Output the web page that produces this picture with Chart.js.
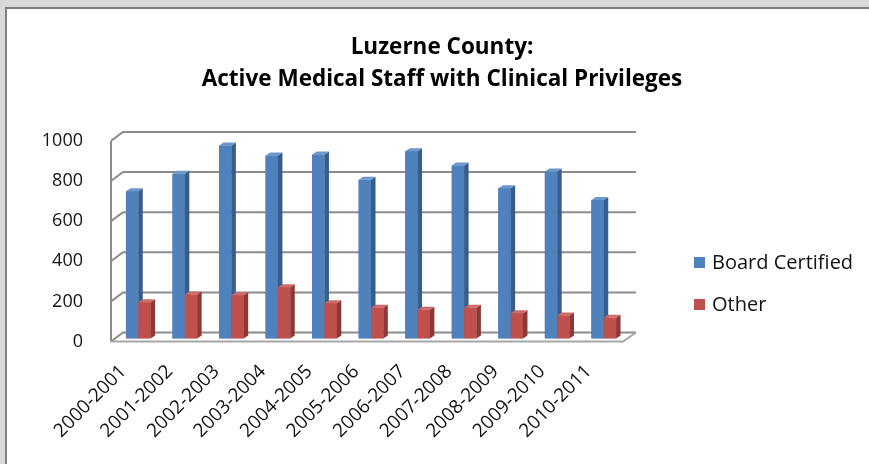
<!DOCTYPE html>
<html>
<head>
<meta charset="utf-8">
<script src="https://cdn.jsdelivr.net/npm/chart.js@4/dist/chart.umd.min.js"></script>
<style>
    body { margin: 0; background: #d9d9d9; overflow: hidden; }
    #frame {
        position: absolute; left: 5px; top: 7px; width: 900px; height: 480px;
        background: #fff; border-left: 2px solid #808080; border-top: 2px solid #808080;
    }
    #wrap { position: absolute; left: 0; top: 0; width: 869px; height: 464px; }
    #legend {
        position: absolute; left: 694px; top: 248px;
        font-family: "Open Sans", sans-serif; font-size: 20px; color: #111;
    }
    #legend div { height: 42px; line-height: 28px; white-space: nowrap; }
    #legend span { display: inline-block; width: 11px; height: 11px; margin-right: 7px; vertical-align: 1px; }
</style>
</head>
<body>
<div id="frame"></div>
<div id="wrap"><canvas id="outputChart" width="869" height="464"></canvas></div>
<div id="legend"></div>
<script>
// 차트 데이터
const years = [
    "2000-2001", "2001-2002", "2002-2003", "2003-2004", "2004-2005", "2005-2006",
    "2006-2007", "2007-2008", "2008-2009", "2009-2010", "2010-2011",
];
const boardCertified = [734, 821, 962, 912, 917, 791, 934, 862, 749, 832, 691];
const other = [181, 219, 216, 256, 176, 153, 143, 153, 126, 115, 103];
const yTicks = [0, 200, 400, 600, 800, 1000];

const seriesNames = ["Board Certified", "Other"];
const fronts = ["#4f81bd", "#c0504d"];
const sides = ["#385d8a", "#8c3836"];
const tops = ["#6d96c9", "#cd6b68"];

// 3D 효과 (벽, 바닥, 막대 옆면/윗면)
const bars3d = {
    id: "bars3d",
    beforeDatasetsDraw(chart) {
        const { ctx, chartArea: a, scales } = chart;
        const y = scales.y;
        ctx.save();
        ctx.strokeStyle = "#8c8c8c";
        ctx.lineWidth = 2;
        // 벽 모서리
        ctx.beginPath();
        ctx.moveTo(a.left - 4, y.getPixelForValue(1000) + 3);
        ctx.lineTo(a.left - 4, y.getPixelForValue(0) + 3);
        ctx.stroke();
        yTicks.forEach((v) => {
            const py = y.getPixelForValue(v);
            ctx.beginPath();
            ctx.moveTo(a.left - 4, py + 3);
            ctx.lineTo(a.left + 8, py - 6);
            ctx.lineTo(a.right + 9, py - 6);
            ctx.stroke();
        });
        // 바닥 앞쪽
        const p0 = y.getPixelForValue(0);
        ctx.strokeStyle = "#a6a6a6";
        ctx.beginPath();
        ctx.moveTo(a.left - 4, p0 + 3);
        ctx.lineTo(a.right - 4, p0 + 3);
        ctx.lineTo(a.right + 9, p0 - 6);
        ctx.stroke();
        ctx.restore();
    },
    afterDatasetsDraw(chart) {
        const { ctx } = chart;
        const dx = 4.5, dy = 3;
        ctx.save();
        const n = chart.data.labels.length;
        for (let i = 0; i < n; i++) {
            chart.data.datasets.forEach((ds, d) => {
                const bar = chart.getDatasetMeta(d).data[i];
                const w = bar.width;
                const l = bar.x - w / 2, r = bar.x + w / 2;
                const t = bar.y, b = bar.base;
                ctx.fillStyle = fronts[d];
                ctx.fillRect(l, t, w, b - t);
                ctx.fillStyle = sides[d];
                ctx.beginPath();
                ctx.moveTo(r, t);
                ctx.lineTo(r + dx, t - dy);
                ctx.lineTo(r + dx, b - dy);
                ctx.lineTo(r, b);
                ctx.closePath();
                ctx.fill();
                ctx.fillStyle = tops[d];
                ctx.beginPath();
                ctx.moveTo(l, t);
                ctx.lineTo(l + dx, t - dy);
                ctx.lineTo(r + dx, t - dy);
                ctx.lineTo(r, t);
                ctx.closePath();
                ctx.fill();
            });
        }
        ctx.restore();
    },
};

const context = document.querySelector("#outputChart").getContext("2d");
const outputChart = new Chart(context, {
    type: "bar",
    data: {
        labels: years,
        datasets: [
            { label: seriesNames[0], data: boardCertified, backgroundColor: fronts[0] },
            { label: seriesNames[1], data: other, backgroundColor: fronts[1] },
        ],
    },
    plugins: [bars3d],
    options: {
        responsive: false,
        animation: false,
        layout: { padding: { left: 15, right: 0, top: 0, bottom: 0 } },
        datasets: {
            bar: { categoryPercentage: 0.53, barPercentage: 1 },
        },
        scales: {
            x: {
                grid: { display: false, drawTicks: false },
                border: { display: false },
                ticks: {
                    color: "#111",
                    font: { family: "Open Sans", size: 19 },
                    minRotation: 45,
                    maxRotation: 45,
                    padding: 22,
                    labelOffset: -15,
                    autoSkip: false,
                },
                afterFit: (s) => { s.height = 125.5; },
            },
            y: {
                min: 0,
                max: 1000,
                grid: { display: false, drawTicks: false },
                border: { display: false },
                afterBuildTicks: (s) => { s.ticks = yTicks.map((v) => ({ value: v })); },
                ticks: {
                    color: "#111",
                    font: { family: "Open Sans", size: 18 },
                    padding: 32,
                    labelOffset: 3,
                    callback: (v) => String(v),
                },
                afterFit: (s) => { s.width = 100; },
            },
            y2: {
                position: "right",
                grid: { display: false, drawTicks: false },
                border: { display: false },
                ticks: { display: false },
                afterFit: (s) => { s.width = 242; },
            },
        },
        plugins: {
            legend: { display: false },
            tooltip: { enabled: false },
            title: {
                display: true,
                text: ["Luzerne County:", "Active Medical Staff with Clinical Privileges"],
                color: "#000",
                font: { family: "Open Sans", size: 22.5, weight: "bold", lineHeight: 1.42 },
                padding: { top: 32, bottom: 42 },
            },
        },
    },
});

// 범례
document.querySelector("#legend").innerHTML = outputChart.data.datasets
    .map((ds) => `<div><span style="background:${ds.backgroundColor}"></span>${ds.label}</div>`)
    .join("");
</script>
</body>
</html>
